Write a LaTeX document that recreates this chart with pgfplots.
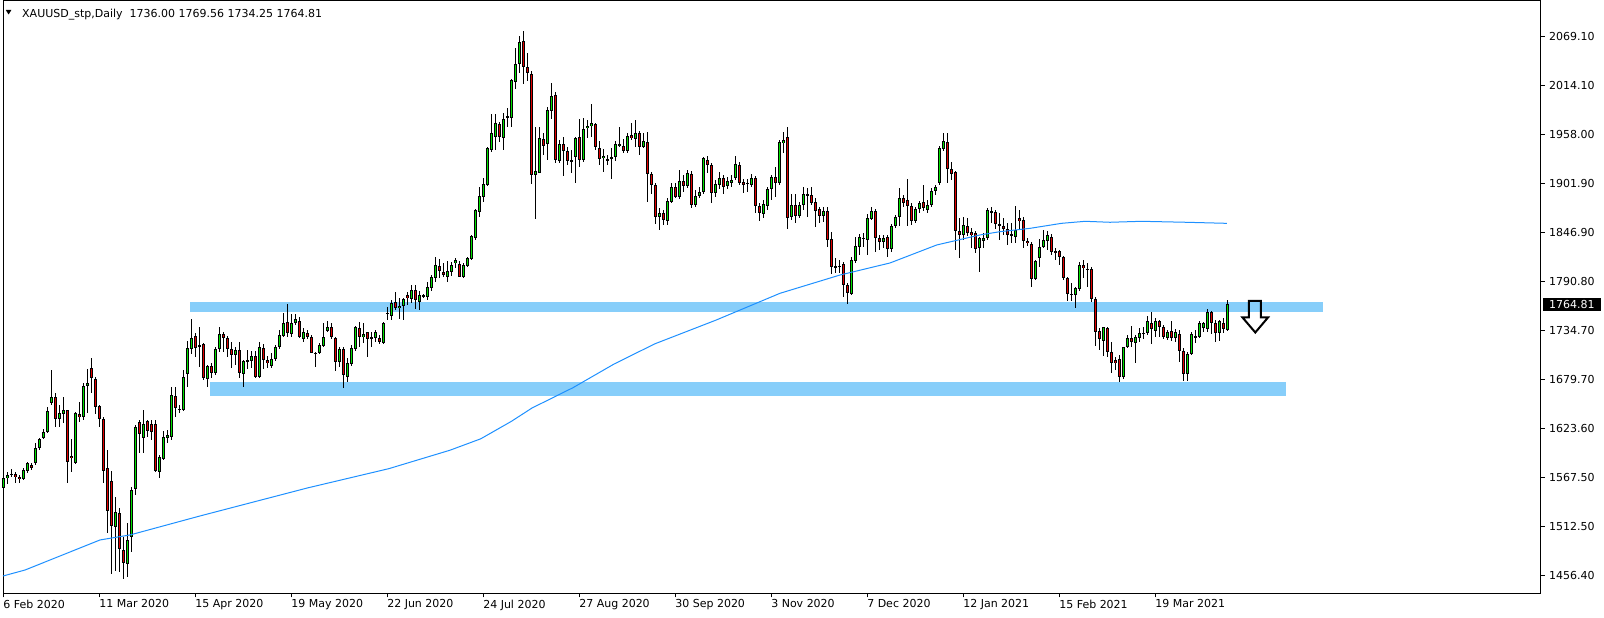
\documentclass[border=0pt]{standalone}
\usepackage{pgfplots}
\pgfplotsset{compat=1.18}
\usepackage{pgfplotstable}
\usepackage{fontspec}
\setmainfont{DejaVu Sans}
\definecolor{upc}{RGB}{0,225,0}
\definecolor{dnc}{RGB}{225,0,0}
\definecolor{zone}{RGB}{135,206,250}
\definecolor{ma}{RGB}{30,144,255}

\pgfplotstableread{
i o h l c
0 1555.6 1569.0 1551.8 1567.0
1 1567.0 1574.6 1560.6 1570.8
2 1570.8 1577.3 1568.2 1572.0
3 1571.6 1574.6 1561.3 1568.2
4 1568.9 1570.8 1562.1 1565.9
5 1565.9 1578.4 1565.1 1576.5
6 1575.7 1586.0 1572.7 1584.1
7 1582.2 1584.0 1577.0 1579.2
8 1584.1 1606.8 1582.2 1601.2
9 1601.2 1613.3 1599.3 1611.8
10 1612.5 1622.8 1611.4 1619.4
11 1620.1 1648.6 1618.2 1643.6
12 1653.1 1690.3 1650.5 1659.2
13 1659.2 1663.7 1625.1 1634.1
14 1634.9 1650.5 1625.1 1641.0
15 1640.6 1659.2 1629.6 1644.4
16 1644.4 1644.8 1562.1 1586.0
17 1592.4 1611.4 1574.6 1589.8
18 1584.9 1642.9 1583.3 1641.0
19 1640.2 1654.2 1631.5 1636.4
20 1636.4 1675.9 1633.4 1672.1
21 1672.5 1691.0 1641.7 1675.9
22 1692.2 1703.5 1663.7 1680.8
23 1680.0 1682.7 1640.2 1648.6
24 1649.3 1650.5 1625.1 1634.5
25 1634.5 1637.2 1562.1 1575.8
26 1578.4 1599.3 1504.5 1530.2
27 1564.0 1575.4 1458.0 1513.2
28 1512.0 1546.2 1462.0 1528.4
29 1527.2 1532.9 1460.0 1486.3
30 1485.5 1500.7 1452.0 1471.1
31 1469.2 1516.6 1455.0 1496.9
32 1500.7 1557.6 1483.6 1553.8
33 1554.5 1627.7 1548.1 1625.1
34 1631.5 1633.4 1595.5 1617.1
35 1613.3 1644.8 1595.5 1628.5
36 1632.3 1633.4 1614.4 1621.3
37 1628.5 1633.4 1610.6 1620.1
38 1628.8 1633.4 1574.6 1575.8
39 1574.6 1593.6 1567.8 1591.7
40 1588.6 1621.3 1587.9 1614.4
41 1613.3 1622.0 1606.8 1616.3
42 1614.4 1671.3 1610.6 1661.8
43 1660.7 1671.3 1637.2 1647.4
44 1645.9 1650.5 1641.0 1645.5
45 1644.8 1690.3 1644.0 1682.7
46 1685.3 1723.6 1671.3 1714.9
47 1713.7 1747.9 1708.5 1726.3
48 1728.9 1732.0 1704.7 1715.6
49 1717.9 1739.6 1694.1 1717.5
50 1719.5 1720.6 1678.9 1680.8
51 1679.6 1696.0 1671.3 1694.8
52 1694.8 1697.9 1680.8 1687.2
53 1686.5 1716.8 1684.6 1713.8
54 1713.8 1738.8 1711.1 1730.8
55 1730.8 1733.9 1711.1 1726.3
56 1726.3 1728.9 1705.4 1713.8
57 1713.8 1722.5 1692.2 1707.3
58 1707.3 1716.8 1696.0 1713.0
59 1713.0 1722.5 1680.8 1686.5
60 1685.3 1701.6 1670.5 1700.5
61 1700.5 1713.0 1691.0 1701.6
62 1700.9 1712.2 1692.2 1706.2
63 1706.2 1712.2 1680.8 1681.9
64 1681.9 1722.5 1680.8 1716.0
65 1714.9 1719.8 1691.0 1701.6
66 1701.6 1706.2 1692.2 1697.9
67 1695.2 1710.0 1692.2 1702.8
68 1702.4 1718.7 1700.9 1716.0
69 1716.0 1735.8 1713.8 1730.1
70 1729.3 1754.7 1727.4 1743.4
71 1744.5 1765.3 1727.4 1732.7
72 1730.8 1754.0 1728.2 1744.1
73 1744.1 1754.0 1741.5 1747.9
74 1746.4 1750.2 1726.3 1727.4
75 1725.5 1737.6 1722.5 1733.9
76 1732.0 1735.8 1725.2 1728.2
77 1727.4 1730.1 1709.2 1710.0
78 1709.6 1711.1 1693.3 1709.2
79 1710.0 1721.4 1708.5 1718.7
80 1717.6 1744.1 1716.8 1728.2
81 1735.0 1746.4 1733.9 1739.6
82 1738.8 1744.1 1725.2 1727.4
83 1726.3 1728.2 1689.5 1699.0
84 1699.0 1716.8 1693.3 1713.8
85 1713.8 1716.8 1670.2 1684.6
86 1682.7 1703.5 1677.0 1697.9
87 1697.1 1718.7 1694.8 1714.9
88 1713.8 1740.3 1712.2 1738.8
89 1737.6 1745.2 1716.8 1727.4
90 1727.4 1743.3 1721.4 1731.2
91 1733.1 1733.9 1704.7 1725.2
92 1725.2 1733.9 1716.8 1727.4
93 1726.3 1735.8 1722.5 1733.9
94 1726.3 1730.1 1719.8 1722.5
95 1720.6 1745.2 1719.8 1744.1
96 1754.8 1762.3 1747.1 1754.6
97 1752.1 1769.9 1747.1 1766.9
98 1768.0 1779.4 1758.5 1760.4
99 1760.4 1771.8 1747.9 1763.4
100 1763.4 1771.8 1747.1 1770.6
101 1775.2 1779.4 1764.2 1772.5
102 1771.4 1787.0 1766.1 1781.3
103 1781.3 1787.0 1759.3 1769.9
104 1768.0 1780.5 1758.5 1775.6
105 1774.5 1776.7 1771.8 1774.4
106 1773.7 1790.8 1769.9 1785.1
107 1783.2 1798.4 1780.5 1796.4
108 1794.5 1818.4 1790.8 1809.7
109 1808.6 1816.2 1794.5 1803.3
110 1802.1 1812.4 1795.7 1798.4
111 1795.7 1814.7 1790.8 1803.3
112 1802.1 1813.5 1797.2 1809.7
113 1811.6 1818.0 1805.9 1815.6
114 1810.9 1814.7 1795.7 1796.4
115 1796.4 1812.4 1794.5 1809.7
116 1809.0 1818.4 1807.1 1817.3
117 1816.5 1843.9 1815.4 1842.7
118 1840.1 1873.0 1838.2 1872.3
119 1870.4 1898.8 1863.9 1888.2
120 1886.7 1908.3 1881.8 1901.5
121 1900.7 1944.3 1899.6 1942.4
122 1940.5 1981.1 1938.0 1959.5
123 1955.7 1981.5 1940.5 1971.0
124 1970.1 1972.8 1950.0 1955.7
125 1954.6 1982.3 1940.5 1975.4
126 1978.6 1988.0 1967.1 1978.4
127 1976.6 2020.9 1967.1 2019.8
128 2018.3 2056.2 2009.6 2038.4
129 2038.4 2070.2 2027.8 2063.0
130 2064.5 2075.9 2015.3 2034.6
131 2034.6 2050.5 2019.4 2027.8
132 2027.0 2030.4 1901.9 1912.1
133 1912.1 1967.1 1862.4 1916.7
134 1914.8 1967.1 1914.0 1953.8
135 1953.1 1959.5 1934.9 1945.1
136 1947.4 1989.8 1929.2 1986.1
137 1985.0 2016.4 1975.4 2002.0
138 2003.1 2006.9 1925.4 1929.2
139 1928.0 1951.9 1926.1 1947.4
140 1947.4 1955.7 1911.0 1939.8
141 1939.8 1944.3 1923.5 1928.4
142 1928.6 1940.5 1914.0 1928.2
143 1932.2 1955.7 1902.6 1953.8
144 1955.0 1975.4 1921.6 1929.2
145 1929.2 1976.6 1927.3 1964.1
146 1965.2 1974.7 1953.8 1967.8
147 1967.8 1992.5 1955.7 1970.9
148 1970.1 1971.6 1940.5 1943.6
149 1942.4 1951.2 1923.5 1929.9
150 1931.1 1941.3 1915.9 1933.7
151 1929.4 1934.9 1923.5 1929.2
152 1930.1 1942.4 1907.2 1932.2
153 1932.2 1951.2 1928.4 1947.4
154 1945.1 1966.3 1944.3 1947.4
155 1945.1 1952.7 1937.5 1939.8
156 1939.8 1959.5 1936.8 1956.5
157 1957.6 1971.6 1951.9 1953.8
158 1952.7 1974.7 1944.3 1959.5
159 1959.5 1962.5 1934.9 1944.3
160 1944.3 1960.3 1942.4 1950.8
161 1949.3 1961.4 1881.8 1913.3
162 1913.3 1915.9 1890.5 1900.7
163 1900.7 1903.4 1856.4 1863.9
164 1863.9 1874.2 1849.5 1868.5
165 1868.5 1872.3 1855.2 1860.9
166 1860.1 1885.6 1855.2 1882.5
167 1881.8 1902.6 1879.9 1898.1
168 1898.1 1902.6 1885.6 1887.5
169 1887.5 1917.8 1884.4 1905.7
170 1905.7 1912.1 1893.2 1899.6
171 1899.6 1917.8 1897.0 1914.8
172 1913.3 1917.0 1874.2 1877.6
173 1878.0 1895.0 1876.1 1888.2
174 1888.2 1898.8 1885.6 1893.2
175 1893.2 1933.0 1890.5 1931.1
176 1929.2 1933.7 1914.8 1923.5
177 1923.5 1925.4 1879.9 1891.3
178 1891.3 1906.4 1886.7 1901.8
179 1900.7 1915.9 1895.8 1908.3
180 1908.3 1912.1 1890.5 1898.8
181 1899.6 1909.5 1895.8 1905.3
182 1903.4 1912.1 1898.1 1906.4
183 1908.3 1933.7 1906.4 1924.6
184 1923.5 1927.3 1900.7 1903.4
185 1904.5 1907.2 1892.0 1900.7
186 1902.8 1907.2 1893.2 1902.6
187 1900.7 1913.3 1898.1 1908.3
188 1908.3 1911.0 1868.5 1876.8
189 1876.8 1880.6 1860.1 1868.5
190 1867.4 1883.7 1862.8 1879.1
191 1876.8 1898.8 1872.3 1895.8
192 1895.8 1912.1 1883.7 1909.5
193 1909.5 1921.6 1886.7 1903.4
194 1902.6 1951.9 1900.7 1949.3
195 1948.1 1961.4 1936.7 1951.9
196 1955.0 1966.3 1850.3 1862.8
197 1863.9 1890.5 1860.9 1878.0
198 1878.0 1890.5 1857.1 1865.8
199 1865.8 1881.8 1862.8 1878.0
200 1878.0 1898.8 1872.3 1890.5
201 1889.5 1896.9 1864.7 1889.3
202 1889.4 1898.8 1878.0 1880.6
203 1881.8 1885.6 1852.6 1871.5
204 1873.0 1875.3 1857.1 1865.8
205 1865.8 1875.3 1859.0 1871.5
206 1871.5 1875.3 1830.6 1838.2
207 1839.3 1847.6 1799.5 1807.1
208 1808.0 1817.3 1800.2 1807.8
209 1807.1 1815.4 1801.0 1809.0
210 1810.9 1813.5 1773.7 1786.9
211 1786.9 1789.6 1764.9 1777.5
212 1776.7 1819.2 1775.6 1815.4
213 1814.7 1841.2 1811.6 1831.3
214 1829.8 1845.0 1821.1 1841.2
215 1840.1 1845.7 1830.6 1839.9
216 1838.2 1867.4 1821.1 1863.6
217 1861.7 1876.0 1860.9 1871.1
218 1871.1 1873.0 1824.9 1840.0
219 1840.0 1843.8 1826.8 1836.3
220 1836.3 1843.8 1828.7 1840.8
221 1841.2 1843.8 1818.4 1827.5
222 1827.5 1856.4 1824.9 1854.1
223 1854.1 1866.6 1851.4 1864.7
224 1863.9 1896.9 1854.1 1885.6
225 1885.6 1889.4 1875.3 1880.6
226 1883.7 1907.2 1854.1 1876.8
227 1876.8 1879.9 1855.2 1860.1
228 1860.1 1875.3 1857.9 1873.0
229 1873.0 1882.9 1869.3 1879.9
230 1881.8 1900.7 1871.5 1874.2
231 1872.3 1883.7 1869.3 1878.0
232 1878.0 1896.9 1875.3 1894.3
233 1894.3 1900.7 1889.4 1898.1
234 1903.4 1945.1 1900.7 1942.4
235 1941.3 1959.5 1939.8 1950.8
236 1949.3 1959.5 1903.4 1918.5
237 1918.5 1927.3 1906.4 1913.2
238 1915.1 1917.0 1826.8 1848.8
239 1848.8 1862.8 1817.3 1843.5
240 1844.2 1864.7 1838.2 1854.8
241 1854.1 1863.6 1842.7 1845.7
242 1846.9 1851.4 1828.7 1843.8
243 1845.7 1848.8 1823.0 1827.5
244 1828.7 1841.9 1802.1 1840.1
245 1837.4 1845.8 1828.7 1840.1
246 1840.1 1874.2 1838.2 1872.3
247 1871.1 1875.3 1857.9 1869.6
248 1869.6 1872.3 1850.3 1856.0
249 1856.0 1868.5 1838.2 1854.5
250 1854.5 1862.8 1843.9 1850.7
251 1850.3 1857.1 1832.5 1843.9
252 1844.0 1857.9 1834.4 1843.8
253 1842.0 1876.8 1834.4 1849.5
254 1862.8 1872.3 1850.3 1860.1
255 1860.9 1864.7 1829.4 1837.4
256 1837.4 1840.1 1831.3 1834.4
257 1833.6 1836.3 1785.1 1793.4
258 1794.2 1815.4 1792.7 1814.3
259 1817.3 1838.9 1807.1 1830.6
260 1830.6 1849.5 1828.7 1838.2
261 1837.4 1848.8 1826.8 1843.9
262 1842.0 1845.0 1821.1 1824.9
263 1826.0 1828.7 1815.4 1823.7
264 1825.6 1826.8 1809.7 1819.2
265 1818.4 1819.9 1792.7 1794.6
266 1794.6 1795.7 1769.1 1776.4
267 1776.6 1789.6 1769.1 1776.4
268 1775.6 1785.1 1760.4 1783.2
269 1782.1 1813.5 1780.5 1809.7
270 1809.7 1815.4 1794.6 1805.9
271 1804.9 1811.6 1784.3 1804.8
272 1804.8 1807.1 1768.0 1770.7
273 1770.7 1773.7 1717.6 1733.9
274 1734.6 1737.7 1713.0 1725.2
275 1723.6 1739.6 1706.6 1738.8
276 1737.7 1738.8 1704.7 1711.1
277 1710.4 1722.5 1687.2 1697.9
278 1701.6 1705.4 1690.3 1697.9
279 1702.8 1707.3 1677.0 1682.7
280 1682.7 1716.8 1679.7 1716.1
281 1716.1 1730.1 1714.9 1726.3
282 1726.3 1740.3 1716.8 1721.8
283 1721.4 1730.1 1698.6 1727.4
284 1726.3 1737.7 1722.5 1732.7
285 1732.1 1739.6 1725.2 1731.9
286 1732.0 1751.7 1730.1 1746.0
287 1744.1 1755.9 1719.5 1736.5
288 1734.6 1749.0 1728.2 1746.0
289 1746.0 1747.1 1728.2 1738.8
290 1738.8 1741.5 1725.2 1727.4
291 1726.3 1735.8 1724.4 1733.9
292 1734.6 1746.0 1723.6 1726.3
293 1726.3 1736.5 1722.5 1733.9
294 1731.2 1735.8 1699.8 1712.3
295 1712.3 1714.9 1678.1 1685.3
296 1685.3 1711.1 1678.1 1708.5
297 1708.5 1733.9 1707.3 1731.2
298 1728.3 1735.8 1721.4 1728.2
299 1728.2 1746.4 1726.3 1743.4
300 1737.7 1745.2 1733.9 1744.1
301 1736.5 1759.7 1733.9 1755.9
302 1755.9 1757.4 1730.8 1744.1
303 1744.1 1747.1 1722.5 1732.7
304 1732.0 1747.1 1723.3 1746.0
305 1744.1 1749.0 1732.7 1736.5
306 1736.00 1769.56 1734.25 1764.81
}\data

\begin{document}
\fontsize{11}{13}\selectfont
\begin{tikzpicture}
\begin{axis}[
  scale only axis, width=1538pt, height=593pt,
  xmin=-0.15, xmax=384.35, ymin=1436.0, ymax=2110.6,
  clip=false,
  axis line style={line width=1pt, black},
  xtick={0,24,...,288},
  xticklabels={6 Feb 2020,11 Mar 2020,15 Apr 2020,19 May 2020,22 Jun 2020,24 Jul 2020,27 Aug 2020,30 Sep 2020,3 Nov 2020,7 Dec 2020,12 Jan 2021,15 Feb 2021,19 Mar 2021},
  ytick={1456.4,1512.5,1567.5,1623.6,1679.7,1734.7,1790.8,1846.9,1901.9,1958.0,2014.1,2069.1},
  yticklabels={1456.40,1512.50,1567.50,1623.60,1679.70,1734.70,1790.80,1846.90,1901.90,1958.00,2014.10,2069.10},
  xtick pos=bottom, ytick pos=right, yticklabel pos=right,
  tick align=outside, major tick length=4pt,
  tick style={black, line width=1pt},
  xticklabel style={anchor=north west, inner sep=0pt, xshift=-0.5pt, yshift=-2pt},
  yticklabel style={anchor=west, inner sep=0pt, xshift=4pt},
]
% support / resistance zones
\addplot[fill=zone, draw=none] coordinates {(46.7,1756.1) (329.8,1756.1) (329.8,1767.7) (46.7,1767.7)} --cycle;
\addplot[fill=zone, draw=none] coordinates {(51.5,1660.3) (320.6,1660.3) (320.6,1677.0) (51.5,1677.0)} --cycle;
% wicks
\addplot[draw=none, mark=none, error bars/.cd, y dir=both, y explicit, error mark=none,
  error bar style={draw=black, solid, line width=1pt}]
  table[x=i, y expr={(\thisrow{h}+\thisrow{l})/2}, y error expr={(\thisrow{h}-\thisrow{l})/2}] {\data};
% body outlines
\addplot[draw=none, mark=none, error bars/.cd, y dir=both, y explicit, error mark=none,
  error bar style={draw=black, solid, line width=3.2pt}]
  table[x=i, y expr={(\thisrow{o}+\thisrow{c})/2}, y error expr={max(abs(\thisrow{c}-\thisrow{o})/2,0.6)}] {\data};
% bull fill
\addplot[draw=none, mark=none, error bars/.cd, y dir=both, y explicit, error mark=none,
  error bar style={draw=upc, solid, line width=1.4pt}]
  table[x=i, y expr={(\thisrow{o}+\thisrow{c})/2}, y error expr={max((\thisrow{c}-\thisrow{o})/2-1.14,0)}] {\data};
% bear fill
\addplot[draw=none, mark=none, error bars/.cd, y dir=both, y explicit, error mark=none,
  error bar style={draw=dnc, solid, line width=1.4pt}]
  table[x=i, y expr={(\thisrow{o}+\thisrow{c})/2}, y error expr={max((\thisrow{o}-\thisrow{c})/2-1.14,0)}] {\data};
% moving average
\addplot[ma, line width=1pt, mark=none] coordinates {
(-0.15,1455.9) (5.35,1462.7) (11.6,1474.1) (24.1,1496.9) (31.6,1502.6) (49.1,1524.2) (75.9,1556) (96.3,1578) (111.6,1599) (119.3,1612) (127,1632) (132.1,1647) (142.3,1670) (152.6,1697) (162.8,1720) (178.1,1747) (194.1,1777.5) (209.1,1798.3) (221.6,1812) (233.3,1832.5) (244.1,1843.9) (249.1,1847.6) (256.6,1851.4) (264.5,1857.1) (270.4,1859.4) (276.6,1858.3) (284.5,1859.4) (295.6,1858.3) (305.8,1857.1)};
% hollow arrow
\addplot[black, line width=2pt, mark=none, line join=miter] coordinates {
(311.35,1768.76) (314.35,1768.76) (314.35,1749.99) (316.1,1749.99) (312.93,1732.92) (309.73,1749.99) (311.35,1749.99)} --cycle;
% header
\fill (axis cs:0.55,2099.8) -- (axis cs:1.95,2099.8) -- (axis cs:1.25,2094.7) -- cycle;
\node[anchor=base west, inner sep=0pt] at (axis cs:4.6,2091.5) {XAUUSD\_stp,Daily\ \ 1736.00 1769.56 1734.25 1764.81};
% current price label
\node[anchor=west, fill=black, text=white, inner xsep=6pt, inner ysep=2.5pt] at (axis cs:384.85,1764.81) {1764.81};
\end{axis}
\pgfresetboundingbox
\path[use as bounding box] (-3pt,-24.5pt) rectangle (1601pt,593.5pt);
\end{tikzpicture}
\end{document}
